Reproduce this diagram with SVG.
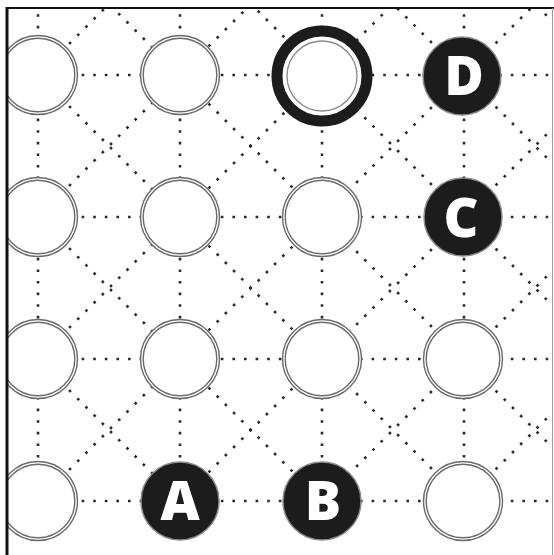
<svg xmlns="http://www.w3.org/2000/svg" width="554" height="555" viewBox="0 0 554 555">
  <style>
    .dot { stroke: #2a2a2a; stroke-width: 2.6; stroke-dasharray: 2.6 9; fill: none; }
    .empty { fill: #ffffff; stroke: #6a6a6a; stroke-width: 1.4; }
    .empty2 { fill: none; stroke: #6a6a6a; stroke-width: 1.4; }
    .filled { fill: #1c1c1c; stroke: #8a8a8a; stroke-width: 1.5; }
    .ring { fill: #ffffff; stroke: #1c1c1c; stroke-width: 11; }
    .inner { fill: none; stroke: #8a8a8a; stroke-width: 1.3; }
    .lbl { fill: #ffffff; font-family: "Open Sans", "Liberation Sans", sans-serif; font-weight: 800; font-size: 54px; text-anchor: middle; }
  </style>
  <defs>
    <clipPath id="frame"><rect x="8" y="9" width="544" height="546"/></clipPath>
    <clipPath id="lines"><rect x="8" y="9" width="544" height="494"/></clipPath>
  </defs>
  <rect width="554" height="555" fill="#ffffff"/>
  <g id="connectors" clip-path="url(#lines)">
    <line class="dot" x1="-104" y1="75" x2="606" y2="75"/>
    <line class="dot" x1="-104" y1="217" x2="606" y2="217"/>
    <line class="dot" x1="-104" y1="359" x2="606" y2="359"/>
    <line class="dot" x1="-104" y1="501" x2="606" y2="501"/>
    <line class="dot" x1="38" y1="-67" x2="38" y2="501"/>
    <line class="dot" x1="180" y1="-67" x2="180" y2="501"/>
    <line class="dot" x1="322" y1="-67" x2="322" y2="501"/>
    <line class="dot" x1="464" y1="-67" x2="464" y2="501"/>
    <line class="dot" x1="-300" y1="305" x2="760" y2="1365"/>
    <line class="dot" x1="-300" y1="163" x2="760" y2="1223"/>
    <line class="dot" x1="-300" y1="21" x2="760" y2="1081"/>
    <line class="dot" x1="-300" y1="-121" x2="760" y2="939"/>
    <line class="dot" x1="-300" y1="-263" x2="760" y2="797"/>
    <line class="dot" x1="-300" y1="-405" x2="760" y2="655"/>
    <line class="dot" x1="-300" y1="-547" x2="760" y2="513"/>
    <line class="dot" x1="-300" y1="-689" x2="760" y2="371"/>
    <line class="dot" x1="-300" y1="-831" x2="760" y2="229"/>
    <line class="dot" x1="-300" y1="-973" x2="760" y2="87"/>
    <line class="dot" x1="-300" y1="271" x2="760" y2="-789"/>
    <line class="dot" x1="-300" y1="413" x2="760" y2="-647"/>
    <line class="dot" x1="-300" y1="555" x2="760" y2="-505"/>
    <line class="dot" x1="-300" y1="697" x2="760" y2="-363"/>
    <line class="dot" x1="-300" y1="839" x2="760" y2="-221"/>
    <line class="dot" x1="-300" y1="981" x2="760" y2="-79"/>
    <line class="dot" x1="-300" y1="1123" x2="760" y2="63"/>
    <line class="dot" x1="-300" y1="1265" x2="760" y2="205"/>
    <line class="dot" x1="-300" y1="1407" x2="760" y2="347"/>
  </g>
  <g clip-path="url(#frame)">
    <g id="n-r0c0"><circle class="empty" cx="38" cy="75" r="39.5"/><circle class="empty2" cx="38" cy="75" r="36.8"/></g>
    <g id="n-r0c1"><circle class="empty" cx="180" cy="75" r="39.5"/><circle class="empty2" cx="180" cy="75" r="36.8"/></g>
    <g id="n-r0c2"><circle class="ring" cx="322" cy="76" r="45"/><circle class="inner" cx="322" cy="76" r="35"/></g>
    <g id="n-D"><circle class="filled" cx="462" cy="76" r="39"/><text class="lbl" x="464" y="95">D</text></g>
    <g id="n-r1c0"><circle class="empty" cx="38" cy="217" r="39.5"/><circle class="empty2" cx="38" cy="217" r="36.8"/></g>
    <g id="n-r1c1"><circle class="empty" cx="180" cy="217" r="39.5"/><circle class="empty2" cx="180" cy="217" r="36.8"/></g>
    <g id="n-r1c2"><circle class="empty" cx="322" cy="217" r="39.5"/><circle class="empty2" cx="322" cy="217" r="36.8"/></g>
    <g id="n-C"><circle class="filled" cx="463" cy="217" r="39"/><text class="lbl" x="461" y="237">C</text></g>
    <g id="n-r2c0"><circle class="empty" cx="38" cy="359" r="39.5"/><circle class="empty2" cx="38" cy="359" r="36.8"/></g>
    <g id="n-r2c1"><circle class="empty" cx="180" cy="359" r="39.5"/><circle class="empty2" cx="180" cy="359" r="36.8"/></g>
    <g id="n-r2c2"><circle class="empty" cx="322" cy="359" r="39.5"/><circle class="empty2" cx="322" cy="359" r="36.8"/></g>
    <g id="n-r2c3"><circle class="empty" cx="463" cy="359" r="39.5"/><circle class="empty2" cx="463" cy="359" r="36.8"/></g>
    <g id="n-r3c0"><circle class="empty" cx="38" cy="501" r="39.5"/><circle class="empty2" cx="38" cy="501" r="36.8"/></g>
    <g id="n-A"><circle class="filled" cx="180" cy="501" r="39"/><text class="lbl" x="180" y="520">A</text></g>
    <g id="n-B"><circle class="filled" cx="322" cy="501" r="39"/><text class="lbl" x="323" y="520">B</text></g>
    <g id="n-r3c3"><circle class="empty" cx="463" cy="501" r="39.5"/><circle class="empty2" cx="463" cy="501" r="36.8"/></g>
  </g>
  <g id="frame-border">
    <line x1="7" y1="8" x2="554" y2="8" stroke="#111" stroke-width="2"/>
    <line x1="7" y1="7" x2="7" y2="555" stroke="#111" stroke-width="3"/>
    <line x1="552.5" y1="8" x2="552.5" y2="555" stroke="#999" stroke-width="1"/>
  </g>
</svg>
